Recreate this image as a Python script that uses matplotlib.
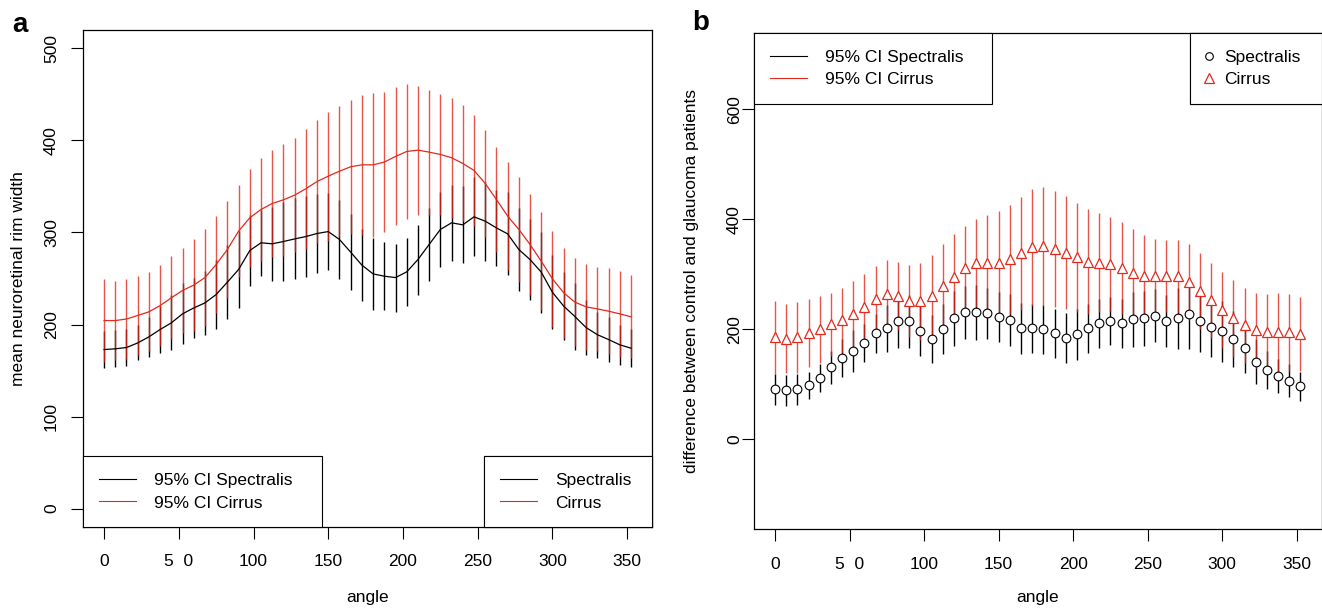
import numpy as np
import matplotlib
matplotlib.use("Agg")
import matplotlib.pyplot as plt
from matplotlib.lines import Line2D

plt.rcParams["font.family"] = ["Liberation Sans", "DejaVu Sans"]

# sampling angles (degrees), 7.5 deg steps
angle = np.arange(0, 360, 7.5)

# panel a: mean neuroretinal rim width and 95% CI half-widths
spec_mean_a = [172.8, 173.6, 175, 180, 186.6, 194.6, 201.8, 211.6, 218, 223.5, 232.6, 246,
               259.8, 280.4, 288.8, 287.7, 290.2, 293, 295.6, 298.9, 301, 292.4, 278.6, 264.5,
               255, 252.5, 251, 257.2, 270.6, 287, 303.3, 310.5, 308.3, 317, 312.3, 305,
               298.5, 281.5, 270.6, 256.9, 235, 220, 208.7, 196.7, 189, 183.7, 178, 174.3]
spec_ci_a = [20, 20, 20, 19, 22, 26, 30, 33, 33, 35, 37, 40,
             42, 39, 36, 40, 43, 44, 44, 43, 42, 43, 41, 39,
             39, 37, 37, 37, 38, 40, 41, 41, 42, 43, 43, 41,
             45, 45, 44, 44, 40, 37, 36, 30, 25, 24, 22, 21]
cirr_mean_a = [204.3, 204.3, 206, 209.8, 213.8, 220.6, 229, 237, 242.8, 251, 265.2, 281.5,
               301.5, 316, 325, 331.5, 335.5, 340.6, 347.5, 355.4, 361.2, 366.6, 371.4, 373.5,
               373.5, 376.5, 382.6, 388, 389.5, 387.3, 384.8, 381.2, 375, 367.4, 353.3, 335.9,
               317.8, 303.3, 287, 268.8, 249.6, 234.5, 224.3, 219.2, 217, 214.5, 211.6, 208.4]
cirr_ci_a = [45, 43, 44, 43, 43, 44, 45, 46, 50, 53, 53, 53,
             50, 53, 56, 58, 61, 62, 65, 67, 70, 71, 73, 76,
             78, 76, 75, 73, 70, 68, 66, 65, 63, 60, 58, 57,
             59, 57, 55, 53, 52, 49, 48, 47, 46, 47, 47, 45]

# panel b: difference between control and glaucoma patients
spec_mean_b = [90.9, 89, 90.9, 97.6, 110.9, 130.9, 147.9, 160, 175.2, 192.1, 201.2, 214.5,
               214.5, 197, 181.8, 200.6, 219.4, 230.3, 230.9, 228.5, 221.8, 217, 201.2, 201.2,
               199.4, 192.1, 184.2, 190.3, 201.2, 210.3, 215.1, 210.3, 217.6, 219.4, 224.8, 215.1,
               219.4, 226.7, 213.9, 203, 195.8, 182.4, 165.5, 140.6, 125.5, 114.5, 106, 95.8]
spec_ci_b = [28, 28, 28, 25, 25, 30, 35, 38, 35, 36, 42, 48,
             48, 45, 44, 46, 50, 49, 50, 47, 46, 47, 47, 44,
             44, 45, 45, 47, 45, 44, 44, 45, 50, 50, 49, 47,
             55, 62, 55, 54, 56, 51, 45, 41, 35, 31, 30, 26]
cirr_mean_b = [184.8, 182.4, 184.8, 192.7, 200, 208.5, 216.4, 227.3, 240.6, 254, 263, 260,
               251.5, 250.9, 260.6, 278.8, 294.5, 310.3, 319.4, 320, 320.6, 326.7, 337.6, 348.5,
               350.3, 346, 338.8, 330.3, 323, 320.6, 318.2, 310.9, 303, 295.8, 295.8, 297,
               295.8, 285.5, 269.7, 252.1, 235.2, 219.4, 206.7, 198.2, 194.5, 194.5, 194.5, 191.5]
cirr_ci_b = [66, 63, 64, 62, 61, 58, 59, 60, 59, 61, 62, 62,
             65, 70, 75, 76, 78, 77, 80, 87, 95, 99, 102, 106,
             108, 105, 103, 100, 95, 90, 85, 84, 79, 75, 69, 66,
             66, 69, 69, 69, 69, 70, 69, 68, 69, 71, 70, 67]

x_ticks = [0, 50, 100, 150, 200, 250, 300, 350]
x_labels = ["0", "5  0", "100", "150", "200", "250", "300", "350"]

RED = "#e2291c"
FS = 12.5

fig = plt.figure(figsize=(13.22, 6.09), dpi=100)
W, H = 1322, 609
ax_a = fig.add_axes([83 / W, (H - 527) / H, (652 - 83) / W, (527 - 30) / H])
ax_b = fig.add_axes([754 / W, (H - 529.3) / H, (1321.5 - 754) / W, (529.3 - 33.3) / H])


def style(ax, yticks, ylim, ypad, xpad):
    ax.set_xlim(-14.1, 366.6)
    ax.set_ylim(*ylim)
    ax.set_xticks(x_ticks)
    ax.set_xticklabels(x_labels)
    ax.set_yticks(yticks)
    ax.set_yticklabels([str(v) for v in yticks])
    ax.tick_params(direction="out", length=8.7, width=0.8, labelsize=FS)
    ax.tick_params(axis="y", pad=ypad)
    ax.tick_params(axis="x", pad=xpad)
    plt.setp(ax.get_yticklabels(), rotation=90, va="center")
    for s in ax.spines.values():
        s.set_linewidth(0.9)


def legend(ax, handles, labels, bbox, loc, **kw):
    opts = dict(loc=loc, bbox_to_anchor=bbox, mode="expand", borderaxespad=0,
                fontsize=FS, frameon=True, fancybox=False, framealpha=1,
                borderpad=0.95, labelspacing=0.42, handlelength=2.1, handletextpad=1.05)
    opts.update(kw)
    leg = ax.legend(handles, labels, **opts)
    leg.get_frame().set_edgecolor("black")
    leg.get_frame().set_linewidth(0.8)
    ax.add_artist(leg)
    return leg


angle_arr = np.asarray(angle)

# ---- panel a ----
sm, sc = np.array(spec_mean_a), np.array(spec_ci_a)
cm, cc = np.array(cirr_mean_a), np.array(cirr_ci_a)
ax_a.vlines(angle_arr, sm - sc, sm + sc, color="black", lw=1.0)
ax_a.vlines(angle_arr, cm - cc, cm + cc, color=RED, lw=1.0, alpha=0.8)
ax_a.plot(angle_arr, sm, color="black", lw=0.9)
ax_a.plot(angle_arr, cm, color=RED, lw=0.9)
style(ax_a, [0, 100, 200, 300, 400, 500], (-20, 520), 8.5, 11)
ax_a.set_xlabel("angle", fontsize=FS)
ax_a.set_ylabel("mean neuroretinal rim width", fontsize=FS)
ax_a.xaxis.set_label_coords(0.5, -0.127)
ax_a.yaxis.set_label_coords(-0.100, 0.5)

line_h = [Line2D([], [], color="black", lw=0.8), Line2D([], [], color=RED, lw=0.8)]
legend(ax_a, line_h, ["95% CI Spectralis", "95% CI Cirrus"], (0, 0, 0.42, 0.2), "lower left")
legend(ax_a, line_h, ["Spectralis", "Cirrus"], (0.7047, 0, 0.2953, 0.2), "lower left")

# ---- panel b ----
sm, sc = np.array(spec_mean_b), np.array(spec_ci_b)
cm, cc = np.array(cirr_mean_b), np.array(cirr_ci_b)
ax_b.vlines(angle_arr, sm - sc, sm + sc, color="black", lw=1.0)
ax_b.vlines(angle_arr, cm - cc, cm + cc, color=RED, lw=1.0, alpha=0.8)
ax_b.plot(angle_arr, sm, "o", ms=6.3, mfc="white", mec="black", mew=0.8, ls="none")
ax_b.plot(angle_arr, cm, "^", ms=7.8, mfc="white", mec=RED, mew=0.9, ls="none")
style(ax_b, [0, 200, 400, 600], (-164, 738), 0, 11.5)
ax_b.set_xlabel("angle", fontsize=FS)
ax_b.set_ylabel("difference between control and glaucoma patients", fontsize=FS)
ax_b.xaxis.set_label_coords(0.5, -0.122)
ax_b.yaxis.set_label_coords(-0.097, 0.5)

legend(ax_b, line_h, ["95% CI Spectralis", "95% CI Cirrus"], (0, 0.8, 0.42, 0.2), "upper left")
mark_h = [Line2D([], [], marker="o", ms=5.5, mfc="none", mec="black", mew=0.8, ls="none"),
          Line2D([], [], marker="^", ms=7.5, mfc="none", mec=RED, mew=0.9, ls="none")]
legend(ax_b, mark_h, ["Spectralis", "Cirrus"], (0.768, 0.8, 0.232, 0.2), "upper left",
       handlelength=0.3, handletextpad=0.7)

fig.text(12 / W, 1 - 32 / H, "a", fontsize=20, fontweight="bold", va="baseline")
fig.text(692 / W, 1 - 30 / H, "b", fontsize=20, fontweight="bold", va="baseline")

fig.savefig("out.png", dpi=100)
